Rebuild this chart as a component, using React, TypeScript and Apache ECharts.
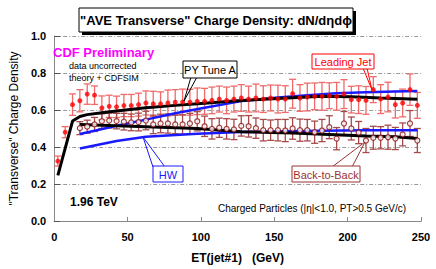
import React, { useEffect, useRef } from "react";
import * as echarts from "echarts";

// ---- data ----
const etLead = [2.5, 7.5, 12.5, 17.5, 22.5, 27.5, 32.5, 37.5, 42.5, 47.5,
  52.5, 57.5, 62.5, 67.5, 72.5, 77.5, 82.5, 87.5, 92.5, 97.5,
  102.5, 107.5, 112.5, 117.5, 122.5, 127.5, 132.5, 137.5, 142.5, 147.5,
  152.5, 157.5, 162.5, 167.5, 172.5, 177.5, 182.5, 187.5, 192.5, 197.5,
  202.5, 207.5, 212.5, 217.5, 222.5, 227.5, 232.5, 237.5, 242.5, 247.5];
const leadingJet = [0.324, 0.48, 0.629, 0.65, 0.686, 0.68, 0.611, 0.62, 0.617, 0.624,
  0.624, 0.629, 0.638, 0.633, 0.633, 0.638, 0.642, 0.643, 0.642, 0.647,
  0.647, 0.652, 0.659, 0.652, 0.659, 0.665, 0.659, 0.665, 0.659, 0.665,
  0.659, 0.659, 0.688, 0.665, 0.67, 0.674, 0.674, 0.677, 0.674, 0.686,
  0.656, 0.656, 0.652, 0.71, 0.659, 0.67, 0.629, 0.638, 0.71, 0.625];
const leadingJetErr = [0.027, 0.03, 0.058, 0.06, 0.055, 0.05, 0.065, 0.06, 0.058, 0.06,
  0.06, 0.062, 0.065, 0.068, 0.065, 0.07, 0.068, 0.07, 0.07, 0.072,
  0.07, 0.072, 0.07, 0.072, 0.07, 0.072, 0.07, 0.075, 0.072, 0.07,
  0.075, 0.072, 0.078, 0.072, 0.075, 0.072, 0.075, 0.07, 0.075, 0.078,
  0.072, 0.075, 0.075, 0.07, 0.078, 0.08, 0.072, 0.075, 0.085, 0.07];

const etB2B = [17.5, 22.5, 27.5, 32.5, 37.5, 42.5, 47.5, 52.5, 57.5, 62.5,
  67.5, 72.5, 77.5, 82.5, 87.5, 92.5, 97.5, 102.5, 107.5, 112.5,
  117.5, 122.5, 127.5, 132.5, 137.5, 142.5, 147.5, 152.5, 157.5, 162.5,
  167.5, 172.5, 177.5, 182.5, 187.5, 192.5, 197.5, 202.5, 207.5, 212.5,
  217.5, 222.5, 227.5, 232.5, 237.5, 242.5, 247.5];
const backToBack = [0.502, 0.51, 0.522, 0.54, 0.543, 0.54, 0.537, 0.533, 0.535, 0.543,
  0.522, 0.527, 0.527, 0.522, 0.522, 0.527, 0.539, 0.512, 0.498, 0.504,
  0.498, 0.495, 0.514, 0.512, 0.502, 0.491, 0.491, 0.491, 0.489, 0.5,
  0.491, 0.491, 0.48, 0.489, 0.507, 0.445, 0.527, 0.5, 0.478, 0.435,
  0.45, 0.45, 0.453, 0.446, 0.468, 0.527, 0.435];
const backToBackErr = [0.035, 0.035, 0.038, 0.04, 0.04, 0.042, 0.045, 0.045, 0.048, 0.05,
  0.05, 0.05, 0.052, 0.05, 0.052, 0.055, 0.052, 0.055, 0.055, 0.052,
  0.055, 0.055, 0.055, 0.058, 0.055, 0.058, 0.055, 0.058, 0.06, 0.058,
  0.06, 0.058, 0.06, 0.06, 0.062, 0.06, 0.065, 0.062, 0.06, 0.065,
  0.062, 0.06, 0.065, 0.06, 0.062, 0.07, 0.065];

// theory curves (PYTHIA Tune A and HERWIG)
const pyLeadET = [2.5, 12.5, 17.5, 22.5, 32.5, 42.5, 62.5, 82.5, 102.5, 122.5, 142.5, 162.5, 182.5, 202.5, 222.5, 247.5];
const pyLead = [0.247, 0.54, 0.565, 0.575, 0.585, 0.595, 0.612, 0.625, 0.637, 0.648, 0.658, 0.666, 0.674, 0.672, 0.665, 0.658];
const hwLeadET = [17.5, 27.5, 42.5, 62.5, 82.5, 102.5, 127.5, 152.5, 172.5, 192.5, 212.5, 232.5, 247.5];
const hwLead = [0.47, 0.488, 0.515, 0.548, 0.582, 0.612, 0.648, 0.668, 0.68, 0.69, 0.696, 0.7, 0.703];
const pyB2BET = [17.5, 42.5, 62.5, 97.5, 127.5, 162.5, 187.5, 212.5, 232.5, 247.5];
const pyB2B = [0.522, 0.515, 0.51, 0.5, 0.482, 0.476, 0.468, 0.46, 0.455, 0.446];
const hwB2BET = [17.5, 42.5, 62.5, 97.5, 127.5, 167.5, 212.5, 247.5];
const hwB2B = [0.392, 0.432, 0.455, 0.471, 0.481, 0.486, 0.49, 0.491];

const xTicks = [0, 50, 100, 150, 200, 250];

const FONT = "'Liberation Sans', Arial, sans-serif";

function pairs(xs: number[], ys: number[]) {
  return xs.map((x, i) => [x, ys[i]]);
}

function errorBars(xs: number[], ys: number[], errs: number[], color: string, z: number) {
  return {
    type: "custom",
    z,
    silent: true,
    data: xs.map((x, i) => [x, ys[i] - errs[i], ys[i] + errs[i]]),
    encode: { x: 0, y: [1, 2] },
    renderItem: (_p: any, api: any) => {
      const x = api.value(0);
      const lo = api.coord([x, api.value(1)]);
      const hi = api.coord([x, api.value(2)]);
      const w = 3.5;
      const st = { stroke: color, lineWidth: 1.3 };
      return {
        type: "group",
        children: [
          { type: "line", shape: { x1: lo[0], y1: lo[1], x2: hi[0], y2: hi[1] }, style: st },
          { type: "line", shape: { x1: lo[0] - w, y1: lo[1], x2: lo[0] + w, y2: lo[1] }, style: st },
          { type: "line", shape: { x1: hi[0] - w, y1: hi[1], x2: hi[0] + w, y2: hi[1] }, style: st },
        ],
      };
    },
  };
}

function theoryLine(xs: number[], ys: number[], color: string, width: number, z: number) {
  return {
    type: "line",
    z,
    data: pairs(xs, ys),
    symbol: "none",
    silent: true,
    lineStyle: { color, width },
  };
}

function callout(x: number, y: number, w: number, h: number, label: string, color: string,
  tail: number[][]) {
  return [
    {
      type: "polyline",
      z: 100,
      shape: { points: tail },
      style: { stroke: color, fill: null, lineWidth: 1 },
    },
    {
      type: "rect",
      z: 101,
      shape: { x, y, width: w, height: h },
      style: { fill: "#fff", stroke: color, lineWidth: 1 },
    },
    {
      type: "text",
      z: 102,
      x: x + w / 2,
      y: y + h / 2 + 0.5,
      style: { text: label, fill: color, font: `11px ${FONT}`, align: "center", verticalAlign: "middle" },
    },
  ];
}

const option: any = {
  animation: false,
  backgroundColor: "#fff",
  textStyle: { fontFamily: FONT },
  grid: { left: 43, right: 15, top: 36, bottom: 47, containLabel: false },
  xAxis: [
    {
      type: "value",
      min: xTicks[0],
      max: xTicks[xTicks.length - 1],
      interval: 50,
      name: "ET(jet#1)   (GeV)",
      nameLocation: "middle",
      nameGap: 31,
      nameTextStyle: { fontFamily: FONT, fontWeight: "bold", fontSize: 12, color: "#000" },
      axisLine: { show: true, lineStyle: { color: "#888", width: 1 } },
      axisTick: { show: true, inside: true, length: 4, lineStyle: { color: "#888" } },
      axisLabel: { fontFamily: FONT, fontWeight: "bold", fontSize: 11, color: "#000", margin: 10 },
      splitLine: { show: false },
    },
    {
      type: "value",
      position: "top",
      min: 0,
      max: 250,
      interval: 50,
      axisLine: { show: true, lineStyle: { color: "#888", width: 1 } },
      axisTick: { show: false },
      axisLabel: { show: false },
      splitLine: { show: false },
    },
  ],
  yAxis: [
    {
      type: "value",
      min: 0,
      max: 1,
      interval: 0.2,
      name: '"Transverse" Charge Density',
      nameLocation: "middle",
      nameGap: 28,
      nameTextStyle: { fontFamily: FONT, fontSize: 12, color: "#000" },
      axisLine: { show: false },
      axisTick: { show: true, inside: true, length: 6, lineStyle: { color: "#555" } },
      axisLabel: {
        fontFamily: FONT, fontWeight: "bold", fontSize: 11, color: "#000", margin: 8,
        formatter: (v: number) => v.toFixed(1),
      },
      splitLine: { show: true, lineStyle: { color: "#999", width: 1, type: [4, 2, 1, 2] } },
    },
    {
      type: "value",
      position: "right",
      min: 0,
      max: 1,
      interval: 0.2,
      axisLine: { show: true, lineStyle: { color: "#888", width: 1 } },
      axisTick: { show: false },
      axisLabel: { show: false },
      splitLine: { show: false },
    },
  ],
  series: [
    errorBars(etLead, leadingJet, leadingJetErr, "#f06a6a", 2),
    errorBars(etB2B, backToBack, backToBackErr, "#a84a4a", 2),
    theoryLine(hwLeadET, hwLead, "#1a1aff", 2.5, 3),
    theoryLine(hwB2BET, hwB2B, "#1a1aff", 2.5, 3),
    theoryLine(pyLeadET, pyLead, "#000", 3, 4),
    theoryLine(pyB2BET, pyB2B, "#000", 3, 4),
    {
      type: "scatter",
      z: 5,
      silent: true,
      data: pairs(etLead, leadingJet),
      symbol: "circle",
      symbolSize: 5,
      itemStyle: { color: "#ff0000", borderWidth: 0 },
    },
    {
      type: "scatter",
      z: 5,
      silent: true,
      data: pairs(etB2B, backToBack),
      symbol: "circle",
      symbolSize: 5,
      itemStyle: { color: "#fff", borderColor: "#8b1010", borderWidth: 1.2 },
    },
  ],
  graphic: [
    // title box with drop shadow
    { type: "rect", z: 100, shape: { x: 82, y: 11, width: 274, height: 24 }, style: { fill: "#000" } },
    { type: "rect", z: 101, shape: { x: 79, y: 8, width: 274, height: 24 }, style: { fill: "#fff", stroke: "#000", lineWidth: 1 } },
    {
      type: "text", z: 102, x: 216, y: 20.5,
      style: { text: '"AVE Transverse" Charge Density: dN/dηdϕ', fill: "#000", font: `bold 13px ${FONT}`, align: "center", verticalAlign: "middle" },
    },
    {
      type: "text", z: 102, x: 53, y: 52,
      style: { text: "CDF Preliminary", fill: "#ff00ff", font: `bold 13px ${FONT}`, align: "left", verticalAlign: "middle" },
    },
    {
      type: "text", z: 102, x: 69, y: 66,
      style: { text: "data uncorrected", fill: "#000", font: `9px ${FONT}`, align: "left", verticalAlign: "middle" },
    },
    {
      type: "text", z: 102, x: 69, y: 78,
      style: { text: "theory + CDFSIM", fill: "#000", font: `9px ${FONT}`, align: "left", verticalAlign: "middle" },
    },
    {
      type: "text", z: 102, x: 70, y: 202,
      style: { text: "1.96 TeV", fill: "#000", font: `bold 12px ${FONT}`, align: "left", verticalAlign: "middle" },
    },
    {
      type: "text", z: 102, x: 218, y: 208,
      style: { text: "Charged Particles (|η|<1.0, PT>0.5 GeV/c)", fill: "#000", font: `10px ${FONT}`, align: "left", verticalAlign: "middle" },
    },
    ...callout(183, 61, 54, 17, "PY Tune A", "#000", [[191, 77], [184, 101], [197, 77]]),
    ...callout(312, 54, 62, 15, "Leading Jet", "#ff0000", [[363, 68], [372, 90], [367, 68]]),
    ...callout(153, 166, 30, 16, "HW", "#1a1aff", [[153, 167], [143, 137], [165, 167]]),
    ...callout(292, 166, 68, 16, "Back-to-Back", "#993333", [[332, 167], [365, 142], [352, 167]]),
  ],
};

export default function App() {
  const ref = useRef<HTMLDivElement>(null);
  useEffect(() => {
    const chart = echarts.init(ref.current as HTMLDivElement, null, { renderer: "svg" });
    chart.setOption(option);
    return () => chart.dispose();
  }, []);
  return <div ref={ref} style={{ position: "fixed", left: 0, top: 0, width: 436, height: 269 }} />;
}
